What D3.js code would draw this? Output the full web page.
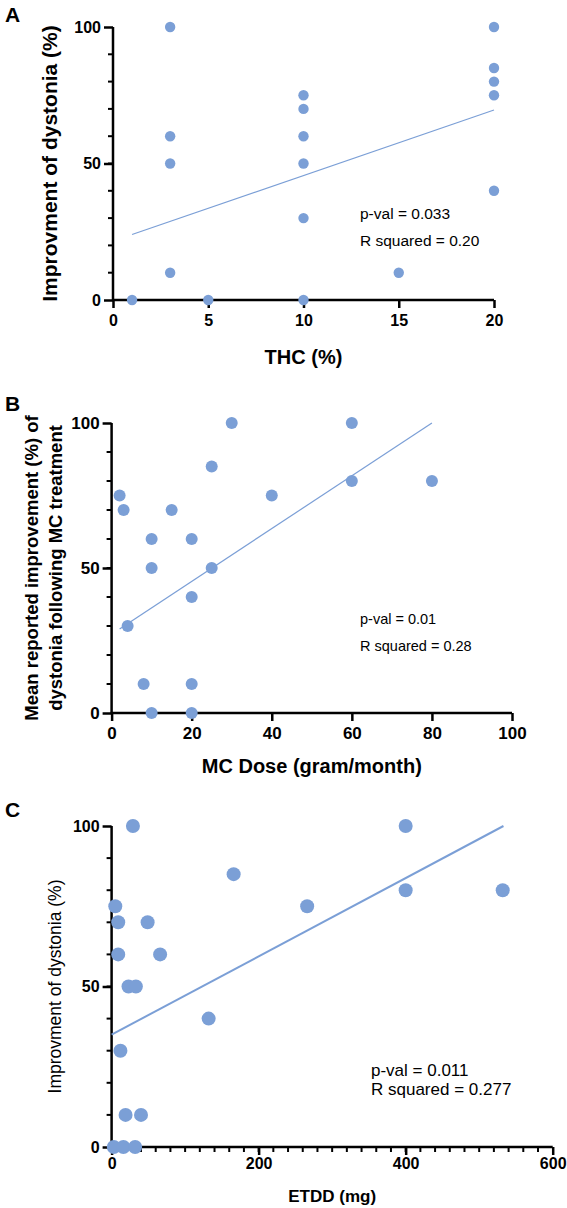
<!DOCTYPE html>
<html><head><meta charset="utf-8">
<script src="https://cdn.jsdelivr.net/npm/d3@7"></script>
<style>body{margin:0;background:#fff}text{font-family:Arial,"Liberation Sans",sans-serif}</style>
</head><body>
<svg id="c" width="567" height="1208"></svg>
<script>
var color = "#7b9fd6";

// panel A
var thcX = [1,3,3,3,3,5,10,10,10,10,10,10,15,20,20,20,20,20];
var thcY = [0,100,60,50,10,0,75,70,60,50,30,0,10,100,85,80,75,40];
var thcFit = [[1,24],[20,69.6]];
// panel B
var doseX = [2,3,4,8,10,10,10,15,20,20,20,20,25,25,30,40,60,60,80];
var doseY = [75,70,30,10,60,50,0,70,60,40,10,0,85,50,100,75,100,80,80];
var doseFit = [[2,29],[80,100]];
// panel C
var etddX = [3,5,9,9,12,19,16,23,29,33,32,40,49,66,132,166,266,400,400,532];
var etddY = [0,75,70,60,30,10,0,50,100,50,0,10,70,60,40,85,75,100,80,80];
var etddFit = [[0,35],[533,100]];

var svg = d3.select("#c");

var panels = [
  {label:"A", ly:22, xs:thcX, ys:thcY, fit:thcFit, xd:[0,20], xt:[0,5,10,15,20], xminor:[],
   x0:113, x1:494, y0:300, y1:27, tick:16, tpad:13,
   xl:"THC (%)", xlSize:20, xly:364, yl:["Improvment of dystonia (%)"], ylSize:21, ylx:[57],
   r:5.2, lw:1.2, stats:["p-val = 0.033","R squared = 0.20"], sx:360, sy:[219,246], ss:15.5},
  {label:"B", ly:411, xs:doseX, ys:doseY, fit:doseFit, xd:[0,100], xt:[0,20,40,60,80,100], xminor:[],
   x0:111.6, x1:512, y0:713, y1:423, tick:17, tpad:12,
   xl:"MC Dose (gram/month)", xlSize:20, xly:773, yl:["Mean reported improvement (%) of","dystonia following MC treatment"], ylSize:18.5, ylx:[38,62],
   r:6, lw:1.2, stats:["p-val = 0.01","R squared = 0.28"], sx:360, sy:[624,651], ss:14.5},
  {label:"C", ly:817, xs:etddX, ys:etddY, fit:etddFit, xd:[0,600], xt:[0,200,400,600], xminor:d3.range(20,600,20),
   x0:111.6, x1:552.7, y0:1147, y1:826, tick:16, tpad:9,
   xl:"ETDD (mg)", xlSize:17, xly:1202, yl:["Improvment of dystonia (%)"], ylSize:17.5, ylx:[61],
   r:7, lw:2, stats:["p-val = 0.011","R squared = 0.277"], sx:371, sy:[1076,1095], ss:17}
];

panels.forEach(function(p){
  var x = d3.scaleLinear().domain(p.xd).range([p.x0,p.x1]);
  var y = d3.scaleLinear().domain([0,100]).range([p.y0,p.y1]);
  var g = svg.append("g");
  svg.append("text").attr("x",5).attr("y",p.ly).attr("font-size",21).attr("font-weight","bold").text(p.label);

  // minor ticks
  g.selectAll("line.ym").data(d3.range(10,100,10)).enter().append("line")
    .attr("x1",p.x0-5).attr("x2",p.x0).attr("y1",function(d){return y(d);}).attr("y2",function(d){return y(d);})
    .attr("stroke","#000").attr("stroke-width",2);
  g.selectAll("line.xm").data(p.xminor).enter().append("line")
    .attr("y1",p.y0).attr("y2",p.y0+5).attr("x1",function(d){return x(d);}).attr("x2",function(d){return x(d);})
    .attr("stroke","#000").attr("stroke-width",2);

  var xa = g.append("g").attr("transform","translate(0,"+p.y0+")")
    .call(d3.axisBottom(x).tickValues(p.xt).tickSize(8).tickPadding(p.tpad-6).tickFormat(d3.format("d")));
  var ya = g.append("g").attr("transform","translate("+p.x0+",0)")
    .call(d3.axisLeft(y).tickValues([0,50,100]).tickSize(9).tickPadding(3));
  [xa,ya].forEach(function(a){
    a.selectAll("path,line").attr("stroke","#000").attr("stroke-width",2.5);
    a.selectAll("text").attr("font-size",p.tick).attr("font-weight","bold").attr("fill","#000")
      .attr("font-family","Arial,'Liberation Sans',sans-serif");
  });
  ya.select(".domain").attr("d","M0,"+(p.y0+1)+"V"+p.y1);
  xa.select(".domain").attr("d","M"+(p.x0-1)+",0H"+p.x1);

  g.append("line").attr("x1",x(p.fit[0][0])).attr("y1",y(p.fit[0][1]))
    .attr("x2",x(p.fit[1][0])).attr("y2",y(p.fit[1][1]))
    .attr("stroke",color).attr("stroke-width",p.lw);

  g.selectAll("circle.pt").data(p.xs).enter().append("circle")
    .attr("cx",function(d){return x(d);})
    .attr("cy",function(d,i){return y(p.ys[i]);})
    .attr("r",p.r).attr("fill",color);

  g.append("text").attr("x",(p.x0+p.x1)/2).attr("y",p.xly).attr("text-anchor","middle")
    .attr("font-size",p.xlSize).attr("font-weight","bold").text(p.xl);
  var cy = (p.y0+p.y1)/2;
  p.yl.forEach(function(t,i){
    g.append("text").attr("transform","translate("+p.ylx[i]+","+cy+") rotate(-90)")
      .attr("text-anchor","middle").attr("font-size",p.ylSize)
      .attr("font-weight",p.label=="C"?"normal":"bold").text(t);
  });
  p.stats.forEach(function(t,i){
    g.append("text").attr("x",p.sx).attr("y",p.sy[i]).attr("font-size",p.ss).text(t);
  });
});
</script>
</body></html>
